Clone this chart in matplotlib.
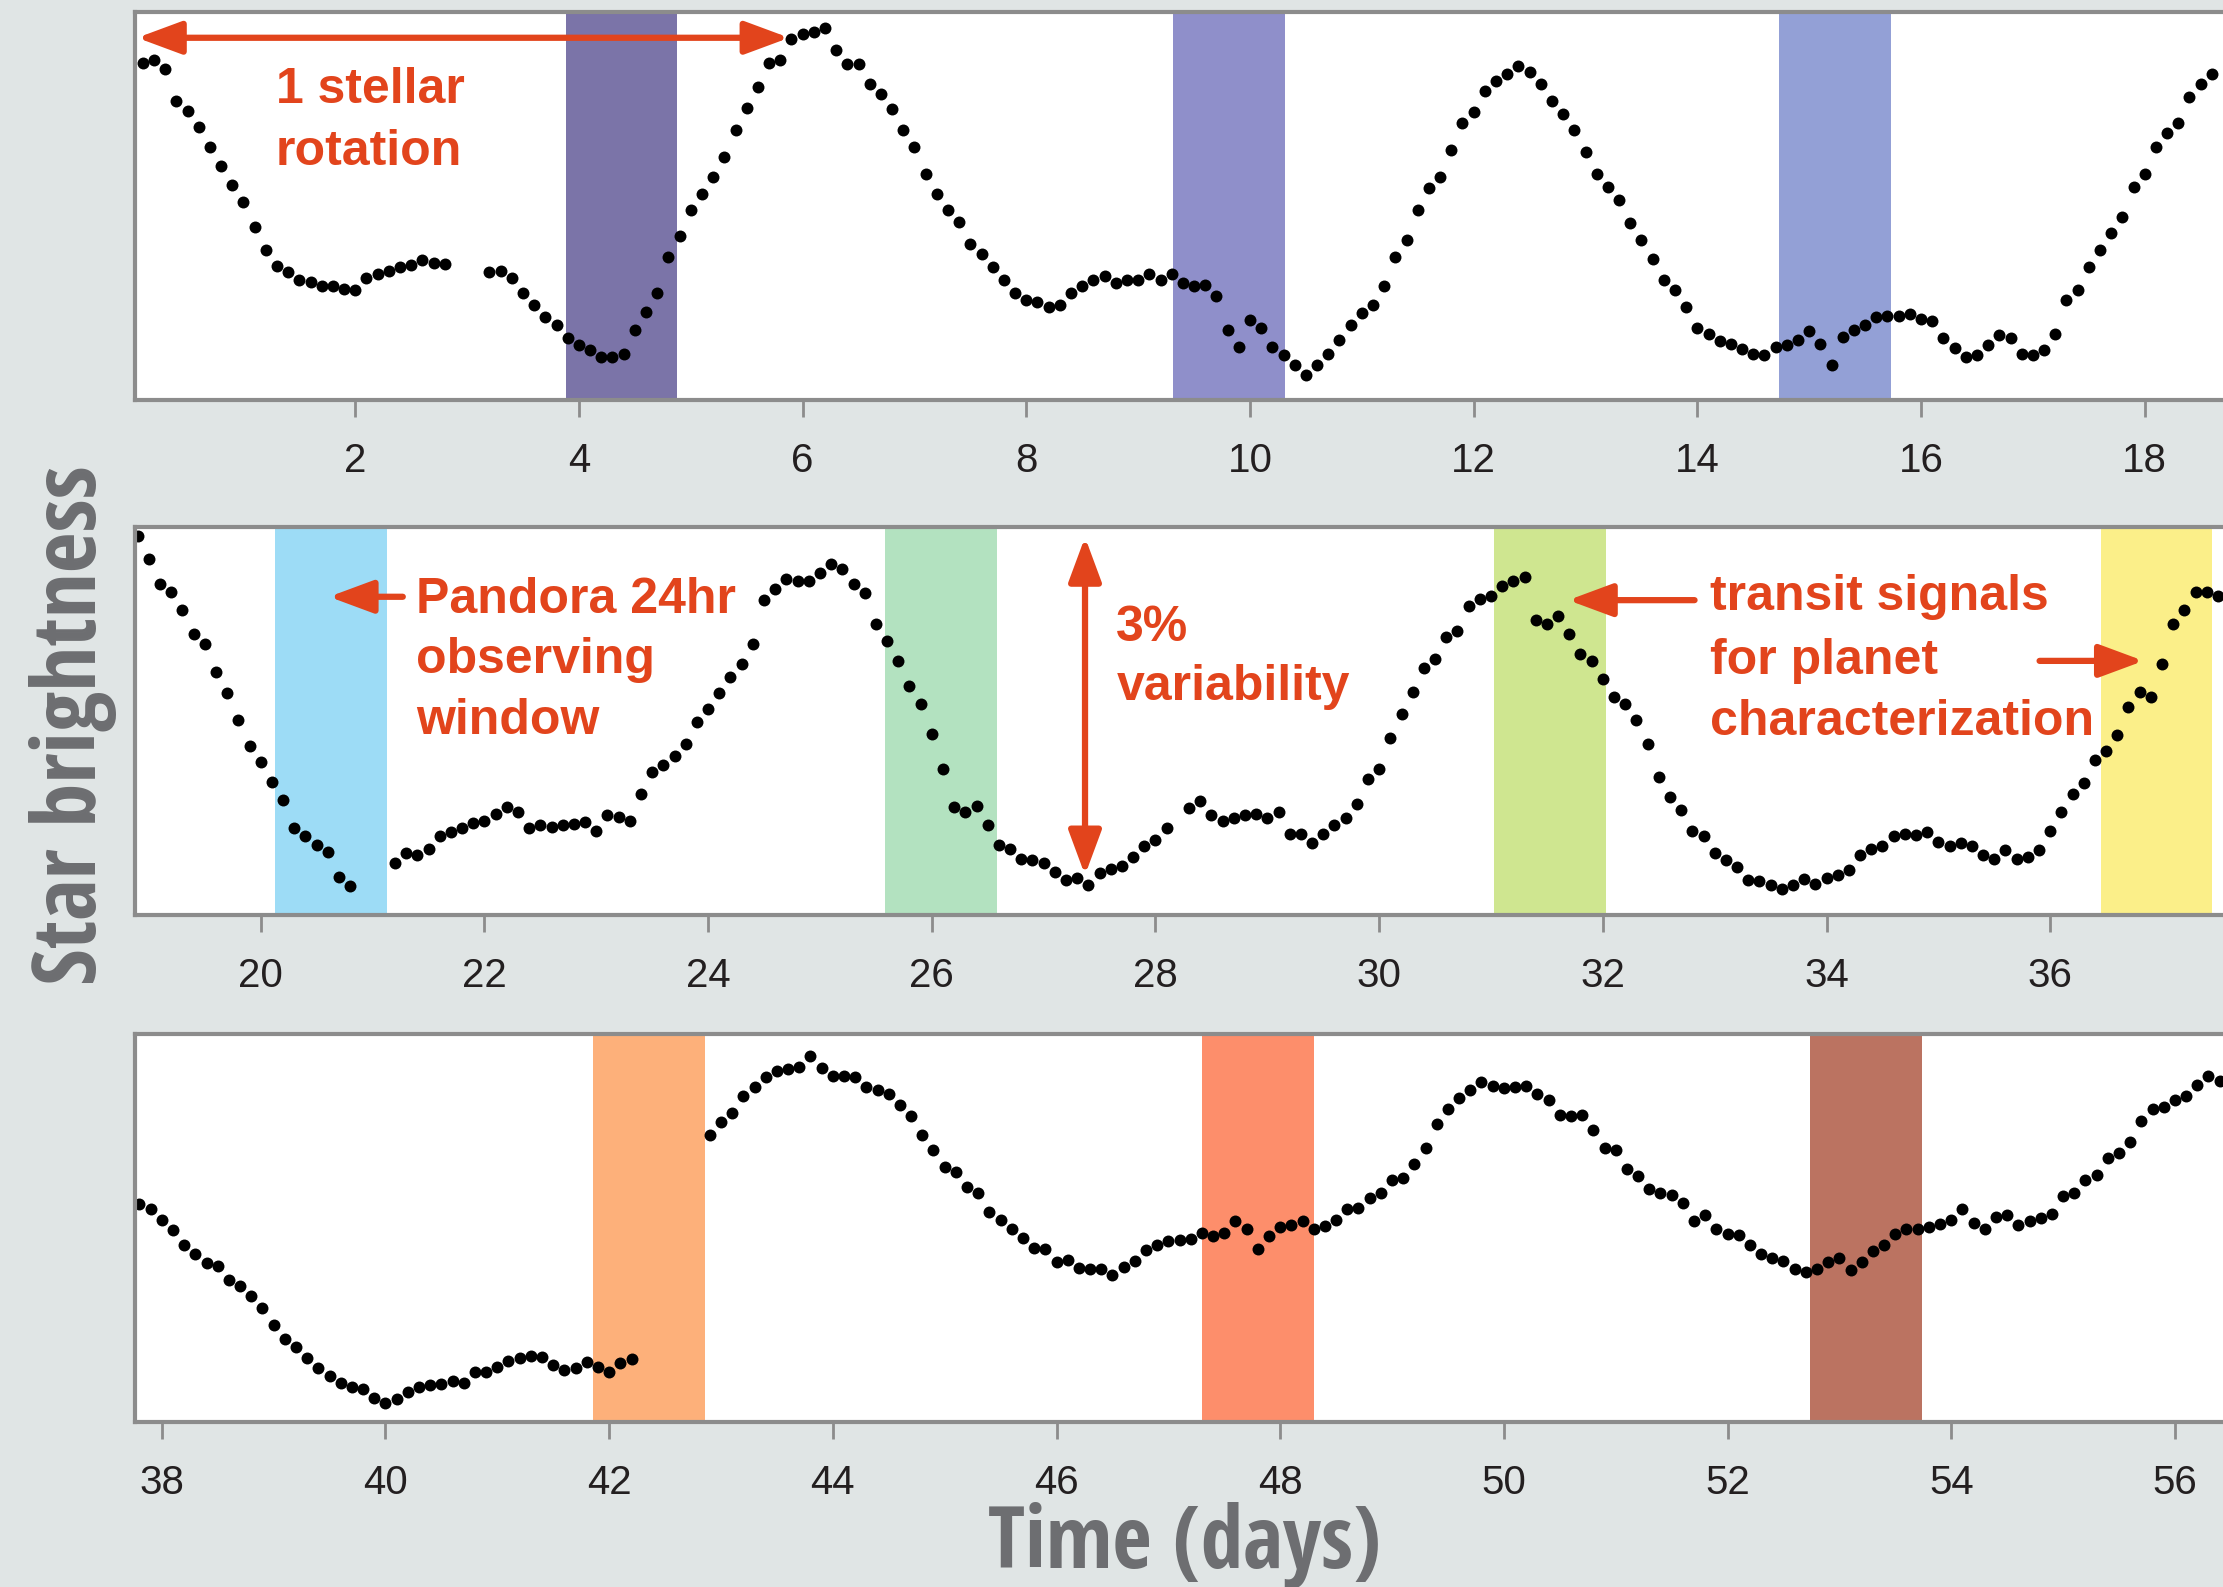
import numpy as np
import matplotlib
matplotlib.use("Agg")
import matplotlib.pyplot as plt
from matplotlib.ticker import MultipleLocator
from matplotlib import font_manager as fm

nan = np.nan

# ---------------- data: relative star brightness (%), 0.1-day cadence ----------------
p1_start = 0.1
p1_flux = [3.00, 3.02, 2.94, 2.66, 2.57, 2.43, 2.25, 2.08, 1.91, 1.76,
           1.54, 1.33, 1.19, 1.14, 1.07, 1.05, 1.01, 1.01, 0.99, 0.98,
           1.08, 1.12, 1.15, 1.18, 1.20, 1.24, 1.22, 1.21, nan, nan,
           nan, 1.14, 1.15, 1.08, 0.95, 0.84, 0.74, 0.67, 0.55, 0.49,
           0.44, 0.38, 0.38, 0.41, 0.62, 0.78, 0.95, 1.27, 1.46, 1.69,
           1.83, 1.98, 2.16, 2.40, 2.60, 2.78, 3.00, 3.02, 3.21, 3.25,
           3.27, 3.31, 3.11, 2.99, 2.99, 2.81, 2.72, 2.59, 2.40, 2.25,
           2.01, 1.83, 1.69, 1.58, 1.39, 1.30, 1.18, 1.07, 0.95, 0.89,
           0.87, 0.83, 0.84, 0.95, 1.01, 1.07, 1.10, 1.04, 1.07, 1.07,
           1.12, 1.07, 1.12, 1.04, 1.01, 1.02, 0.92, 0.62, 0.47, 0.71,
           0.64, 0.47, 0.40, 0.31, 0.22, 0.31, 0.41, 0.53, 0.67, 0.77,
           0.84, 1.01, 1.27, 1.42, 1.69, 1.88, 1.98, 2.22, 2.46, 2.56,
           2.75, 2.84, 2.90, 2.97, 2.92, 2.81, 2.66, 2.54, 2.40, 2.20,
           2.01, 1.89, 1.78, 1.57, 1.42, 1.25, 1.07, 0.98, 0.83, 0.64,
           0.59, 0.52, 0.50, 0.45, 0.41, 0.40, 0.47, 0.49, 0.53, 0.61,
           0.50, 0.31, 0.56, 0.62, 0.67, 0.74, 0.75, 0.75, 0.76, 0.72,
           0.70, 0.55, 0.46, 0.38, 0.40, 0.49, 0.58, 0.55, 0.41, 0.40,
           0.44, 0.59, 0.89, 0.98, 1.18, 1.33, 1.48, 1.63, 1.89, 2.01,
           2.25, 2.37, 2.46, 2.69, 2.81, 2.90]

p2_start = 18.9
p2_flux = [3.37, 3.17, 2.94, 2.87, 2.71, 2.50, 2.41, 2.16, 1.97, 1.73,
           1.50, 1.36, 1.18, 1.02, 0.77, 0.70, 0.62, 0.56, 0.34, 0.26,
           nan, nan, nan, 0.46, 0.55, 0.53, 0.59, 0.70, 0.74, 0.77,
           0.82, 0.84, 0.90, 0.96, 0.92, 0.77, 0.80, 0.78, 0.80, 0.81,
           0.83, 0.75, 0.89, 0.87, 0.84, 1.08, 1.27, 1.33, 1.41, 1.52,
           1.72, 1.83, 1.97, 2.12, 2.23, 2.41, 2.80, 2.90, 2.99, 2.97,
           2.97, 3.04, 3.12, 3.08, 2.94, 2.86, 2.59, 2.44, 2.26, 2.04,
           1.88, 1.61, 1.30, 0.96, 0.92, 0.97, 0.80, 0.62, 0.59, 0.50,
           0.49, 0.46, 0.38, 0.31, 0.33, 0.27, 0.37, 0.41, 0.44, 0.52,
           0.61, 0.67, 0.77, nan, 0.95, 1.01, 0.89, 0.84, 0.86, 0.89,
           0.90, 0.86, 0.92, 0.72, 0.72, 0.64, 0.72, 0.80, 0.86, 0.99,
           1.21, 1.30, 1.57, 1.79, 1.98, 2.20, 2.28, 2.47, 2.53, 2.75,
           2.81, 2.84, 2.93, 2.97, 3.01, 2.62, 2.59, 2.66, 2.50, 2.32,
           2.26, 2.10, 1.94, 1.88, 1.73, 1.52, 1.23, 1.05, 0.93, 0.75,
           0.70, 0.55, 0.49, 0.43, 0.31, 0.30, 0.27, 0.23, 0.27, 0.32,
           0.28, 0.33, 0.36, 0.40, 0.53, 0.59, 0.61, 0.70, 0.72, 0.71,
           0.74, 0.65, 0.61, 0.64, 0.61, 0.53, 0.50, 0.58, 0.50, 0.52,
           0.58, 0.75, 0.92, 1.08, 1.17, 1.38, 1.46, 1.60, 1.85, 1.98,
           1.94, 2.23, 2.59, 2.71, 2.87, 2.87, 2.84]

p3_start = 37.8
p3_flux = [1.94, 1.89, 1.80, 1.71, 1.57, 1.49, 1.41, 1.39, 1.26, 1.21,
           1.12, 1.01, 0.86, 0.74, 0.67, 0.57, 0.48, 0.41, 0.35, 0.31,
           0.29, 0.21, 0.17, 0.20, 0.27, 0.31, 0.33, 0.34, 0.36, 0.35,
           0.44, 0.44, 0.49, 0.54, 0.57, 0.59, 0.58, 0.51, 0.46, 0.48,
           0.53, 0.49, 0.44, 0.52, 0.56, nan, nan, nan, nan, nan,
           nan, 2.55, 2.67, 2.75, 2.90, 2.98, 3.07, 3.12, 3.14, 3.16,
           3.25, 3.15, 3.08, 3.08, 3.07, 2.98, 2.95, 2.92, 2.82, 2.72,
           2.55, 2.42, 2.27, 2.22, 2.09, 2.04, 1.87, 1.80, 1.72, 1.64,
           1.55, 1.54, 1.42, 1.44, 1.37, 1.36, 1.36, 1.31, 1.38, 1.43,
           1.53, 1.57, 1.61, 1.62, 1.63, 1.68, 1.65, 1.68, 1.79, 1.72,
           1.54, 1.65, 1.73, 1.75, 1.79, 1.72, 1.74, 1.80, 1.89, 1.90,
           1.99, 2.04, 2.15, 2.17, 2.29, 2.44, 2.65, 2.78, 2.88, 2.95,
           3.02, 2.99, 2.97, 2.98, 2.99, 2.92, 2.86, 2.73, 2.72, 2.73,
           2.60, 2.44, 2.42, 2.25, 2.19, 2.07, 2.04, 2.02, 1.95, 1.79,
           1.84, 1.72, 1.67, 1.66, 1.57, 1.49, 1.46, 1.43, 1.36, 1.33,
           1.36, 1.42, 1.46, 1.35, 1.42, 1.52, 1.57, 1.67, 1.72, 1.72,
           1.73, 1.76, 1.80, 1.89, 1.77, 1.72, 1.82, 1.84, 1.75, 1.79,
           1.81, 1.85, 2.01, 2.04, 2.15, 2.20, 2.35, 2.39, 2.49, 2.68,
           2.78, 2.80, 2.86, 2.90, 3.00, 3.08, 3.03]

panel_xlim = [(0.03, 18.70), (18.875, 37.545), (37.76, 56.43)]

# Pandora 24 hr observing windows (start day), each 1 day long
window_start = [3.88, 9.31, 14.73, 20.13, 25.585, 31.03, 36.45, 41.86, 47.30, 52.74]
window_len = 1.0
window_color = ["#7b74a8", "#8f8fca", "#93a0d6", "#9ddcf6", "#b3e2c0",
                "#cfe690", "#fbef89", "#fdb07a", "#fd8e6b", "#bb7361"]

# ---------------- figure ----------------
BG = "#e0e5e5"
GRAY = "#8c8c8c"
RED = "#e2441c"
LABEL = "#6d6e71"

fig = plt.figure(figsize=(22.23, 15.87), dpi=100, facecolor=BG)

bottoms = [0.748, 0.4234, 0.104]
height = 0.2445
left, width = 0.0607, 0.9393

panels = [(p1_start, p1_flux), (p2_start, p2_flux), (p3_start, p3_flux)]
axes = []
for i, (start, flux) in enumerate(panels):
    ax = fig.add_axes([left, bottoms[i], width, height])
    ax.set_facecolor("white")
    t = start + 0.1 * np.arange(len(flux))
    x0, x1 = panel_xlim[i]
    for ws, wc in zip(window_start, window_color):
        if ws < x1 and ws + window_len > x0:
            ax.axvspan(ws, ws + window_len, color=wc, lw=0, zorder=1)
    ax.plot(t, np.array(flux, dtype=float), "o", ms=8.6, mew=0, color="black", zorder=3)
    ax.set_xlim(x0, x1)
    ax.set_ylim(0, 3.45)
    ax.xaxis.set_major_locator(MultipleLocator(2))
    ax.set_yticks([])
    for s in ["left", "top", "bottom"]:
        ax.spines[s].set_color(GRAY)
        ax.spines[s].set_linewidth(3)
        ax.spines[s].set_zorder(5)
    ax.spines["right"].set_visible(False)
    ax.tick_params(axis="x", direction="out", length=12, width=2, color=GRAY,
                   pad=18, labelsize=29, labelcolor="#231f20")
    for lab in ax.get_xticklabels():
        lab.set_fontfamily(["Liberation Sans", "DejaVu Sans"])
    axes.append(ax)

ann_font = dict(color=RED, fontsize=36, fontweight="bold",
                family=["Liberation Sans", "DejaVu Sans"], va="baseline", ha="left", zorder=6)


def arrow(ax, tail, tip, style="-|>"):
    ax.annotate("", xy=tip, xytext=tail, zorder=6,
                arrowprops=dict(arrowstyle=style + ",head_length=1.35,head_width=0.5",
                                mutation_scale=20, lw=4.5, color=RED,
                                shrinkA=0, shrinkB=0))


ax1, ax2, ax3 = axes
# panel 1
arrow(ax1, (0.05, 3.22), (5.88, 3.22), style="<|-|>")
ax1.text(1.29, 2.64, "1 stellar", **ann_font)
ax1.text(1.29, 2.09, "rotation", **ann_font)

# panel 2
arrow(ax2, (21.27, 2.83), (20.61, 2.83))
ax2.text(21.39, 2.69, "Pandora 24hr", **ann_font)
ax2.text(21.39, 2.15, "observing", **ann_font)
ax2.text(21.39, 1.61, "window", **ann_font)

arrow(ax2, (27.37, 0.355), (27.37, 3.36), style="<|-|>")
ax2.text(27.65, 2.44, "3%", **ann_font)
ax2.text(27.65, 1.91, "variability", **ann_font)

arrow(ax2, (32.82, 2.80), (31.69, 2.80))
arrow(ax2, (35.905, 2.26), (36.835, 2.26))
ax2.text(32.96, 2.71, "transit signals", **ann_font)
ax2.text(32.96, 2.14, "for planet", **ann_font)
ax2.text(32.96, 1.60, "characterization", **ann_font)


# ---------------- axis labels in a condensed bold face ----------------
def _wt(f):
    w = f.weight
    if isinstance(w, str):
        return {"bold": 700, "heavy": 800, "black": 900, "extra bold": 800,
                "semibold": 600, "demibold": 600}.get(w.lower(), 400)
    return int(w)


def pick_condensed_bold():
    cands = []
    for f in fm.fontManager.ttflist:
        w = _wt(f)
        if w < 600:
            continue
        name = f.name
        st = str(f.stretch).lower()
        fn = f.fname.lower()
        if name == "Liberation Sans Narrow":
            pr = 0
        elif ("semicondensed" in fn or "semi-condensed" in st):
            pr = 3
        elif ("extracondensed" in fn or "extra-condensed" in st):
            pr = 4
        elif ("condensed" in fn or "condensed" in st or "Condensed" in name or "Narrow" in name):
            pr = 1 if name.startswith(("Noto Sans", "Open Sans", "Roboto")) else 2
        else:
            continue
        if "italic" in fn or "oblique" in fn or f.style != "normal":
            continue
        cands.append((pr, abs(w - 700), f.fname))
    if cands:
        cands.sort()
        return fm.FontProperties(fname=cands[0][2])
    return fm.FontProperties(family=["Liberation Sans", "DejaVu Sans"], weight="bold")


label_fp = pick_condensed_bold()
xl = fig.text(1185 / 2223, 1 - 1568 / 1587, "Time (days)", ha="center", va="baseline",
              color=LABEL, fontproperties=label_fp, fontsize=61)
yl = fig.text(96 / 2223, 1 - 725 / 1587, "Star brightness", rotation=90, rotation_mode="anchor",
              ha="center", va="baseline", color=LABEL, fontproperties=label_fp, fontsize=61)

renderer = fig.canvas.get_renderer()
wx = xl.get_window_extent(renderer).width
xl.set_fontsize(61 * 393.0 / wx)
hy = yl.get_window_extent(renderer).height
yl.set_fontsize(61 * 520.0 / hy)

fig.savefig("out.png", dpi=100, facecolor=BG)
